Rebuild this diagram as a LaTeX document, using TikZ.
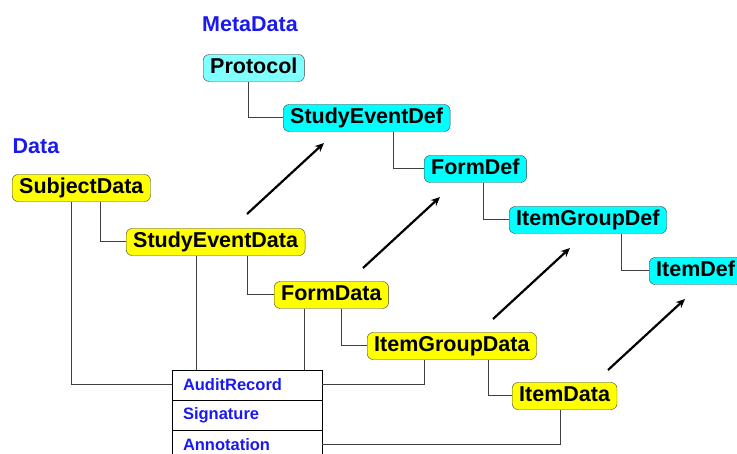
\documentclass[tikz,border=0pt]{standalone}
\usepackage{fontspec}
\setmainfont{Liberation Sans}
\usepackage{tikz}
\usetikzlibrary{positioning, calc, arrows.meta}
\definecolor{odmblue}{RGB}{26,26,240}
\definecolor{linkgray}{RGB}{64,64,64}
\definecolor{palecyan}{RGB}{128,255,255}
\definecolor{defcyan}{RGB}{0,255,255}
\definecolor{datayellow}{RGB}{255,255,0}

\begin{document}
\begin{tikzpicture}[x=1pt, y=-1pt,
        box/.style={draw=linkgray, rounded corners=6pt, anchor=west, inner xsep=7pt, inner ysep=4pt,
            text height=15pt, text depth=4pt, font=\fontsize{21.5}{24}\selectfont\bfseries},
        databox/.style={box, fill=datayellow},
        defbox/.style={box, fill=defcyan},
        tabrow/.style={draw=black, fill=white, minimum height=30pt, text width=128pt, inner xsep=11pt,
            inner ysep=0pt, align=left, text=odmblue, font=\fontsize{16.5}{18}\selectfont\bfseries},
        link/.style={draw=linkgray, line width=1pt},
        maps/.style={line width=2.2pt, -{Stealth[length=9pt, width=8pt]}},
        grouplabel/.style={text=odmblue, font=\fontsize{21.5}{24}\selectfont\bfseries}]
            \useasboundingbox (0,0) rectangle (737,454);
            \node[grouplabel] (meta) at (250,24) {MetaData};
            \node[grouplabel] (data) at (36,146) {Data};
            \node[defbox, fill=palecyan] (Protocol) at (203,68) {Protocol};
            \node[defbox] (StudyEventDef) at (283,118) {StudyEventDef};
            \node[defbox] (FormDef) at (424,169) {FormDef};
            \node[defbox] (ItemGroupDef) at (509,220) {ItemGroupDef};
            \node[defbox] (ItemDef) at (649,271) {ItemDef};
            \node[databox] (SubjectData) at (12,188) {SubjectData};
            \node[databox] (StudyEventData) at (126,242) {StudyEventData};
            \node[databox] (FormData) at (274,295) {FormData};
            \node[databox] (ItemGroupData) at (367,346) {ItemGroupData};
            \node[databox] (ItemData) at (512,396) {ItemData};
            \node[tabrow] (audit) at (247,385) {AuditRecord};
            \node[tabrow] (signature) at (247,415) {Signature};
            \node[tabrow] (annotation) at (247,445) {Annotation};
            \draw[link] (StudyEventDef.west) -| ([xshift=45pt]Protocol.south west);
            \draw[link] (FormDef.west) -| ([xshift=110pt]StudyEventDef.south west);
            \draw[link] (ItemGroupDef.west) -| ([xshift=59pt]FormDef.south west);
            \draw[link] (ItemDef.west) -| ([xshift=112pt]ItemGroupDef.south west);
            \draw[link] (StudyEventData.west) -| ([xshift=88pt]SubjectData.south west);
            \draw[link] (FormData.west) -| ([xshift=121pt]StudyEventData.south west);
            \draw[link] (ItemGroupData.west) -| ([xshift=67pt]FormData.south west);
            \draw[link] (ItemData.west) -| ([xshift=121pt]ItemGroupData.south west);
            \draw[link] (audit.west) -| ([xshift=59pt]SubjectData.south west);
            \draw[link] ([xshift=70pt]StudyEventData.south west) coordinate (k) -- (k |- audit.north);
            \draw[link] ([xshift=30pt]FormData.south west) coordinate (k) -- (k |- audit.north);
            \draw[link] (audit.east) -| ([xshift=57pt]ItemGroupData.south west);
            \draw[link] (annotation.east) -| ([xshift=48pt]ItemData.south west);
            \foreach \x/\y in {247/214, 363/268, 493/319, 608/370}
                \draw[maps] (\x,\y) -- ++(77,-71);
        \end{tikzpicture}
\end{document}
